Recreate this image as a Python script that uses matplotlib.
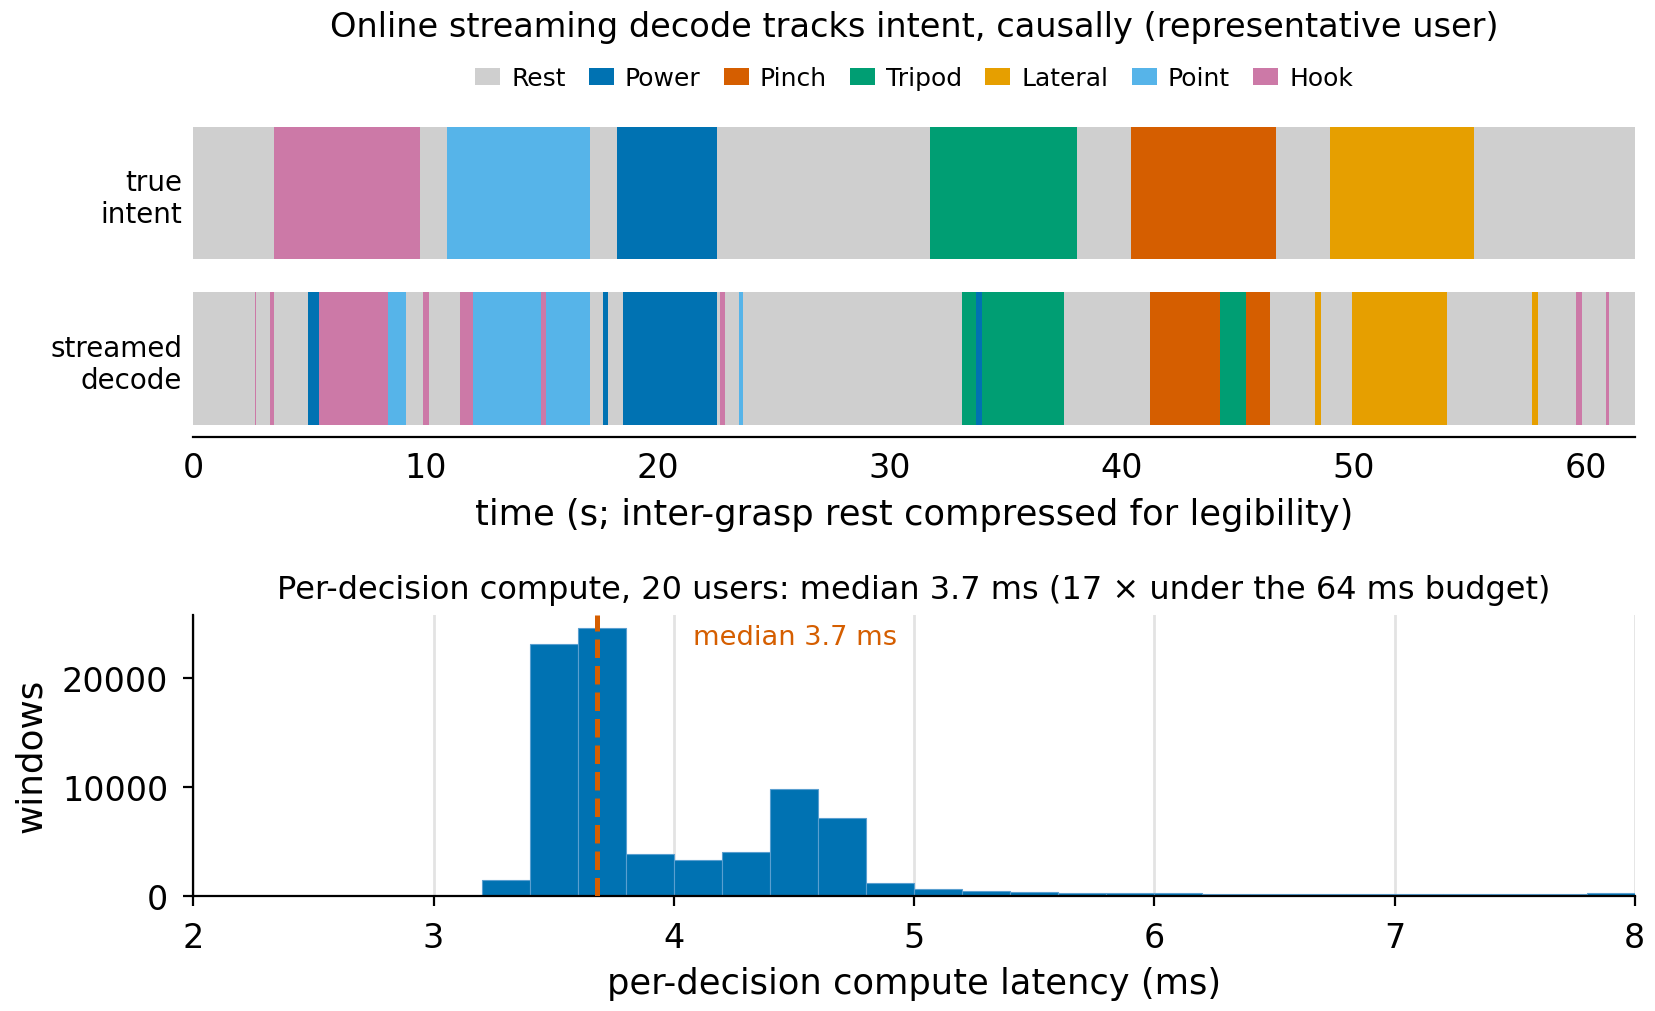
import numpy as np
import matplotlib
matplotlib.use("Agg")
import matplotlib.pyplot as plt
from matplotlib.patches import Patch
import matplotlib.transforms as mtransforms

# grasp classes and colours
classes = ["Rest", "Power", "Pinch", "Tripod", "Lateral", "Point", "Hook"]
class_colors = ["#cfcfcf", "#0072b2", "#d55e00", "#009e73", "#e69f00", "#56b4e9", "#cc79a7"]

# true intent: segment boundaries (s) and class per segment
true_bounds = [0, 3.49, 9.75, 10.93, 17.10, 18.26, 22.55, 31.75, 38.07, 40.40,
               46.65, 48.97, 55.19, 62.1]
true_labels = ["Rest", "Hook", "Rest", "Point", "Rest", "Power", "Rest", "Tripod",
               "Rest", "Pinch", "Rest", "Lateral", "Rest"]

# streamed decode
dec_bounds = [0, 2.66, 2.72, 3.30, 3.47, 4.95, 5.40, 8.40, 9.17, 9.89, 10.14,
              11.49, 12.06, 14.99, 15.20, 17.09, 17.63, 17.88, 18.51, 22.55,
              22.67, 22.90, 23.51, 23.68, 33.11, 33.74, 33.99, 37.51, 41.22,
              44.25, 45.37, 46.39, 48.33, 48.57, 49.92, 54.01, 57.68, 57.91,
              59.57, 59.83, 60.87, 60.99, 62.1]
dec_labels = ["Rest", "Hook", "Rest", "Hook", "Rest", "Power", "Hook", "Point",
              "Rest", "Hook", "Rest", "Hook", "Point", "Hook", "Point", "Rest",
              "Power", "Rest", "Power", "Rest", "Hook", "Rest", "Point", "Rest",
              "Tripod", "Power", "Tripod", "Rest", "Pinch", "Tripod", "Pinch",
              "Rest", "Lateral", "Rest", "Lateral", "Rest", "Lateral", "Rest",
              "Hook", "Rest", "Hook", "Rest"]

row_names = ["true\nintent", "streamed\ndecode"]

# latency histogram (0.2 ms bins)
bin_edges = np.round(np.arange(2.0, 8.01, 0.2), 2)
bin_counts = [0, 0, 0, 0, 0, 0, 1410, 23100, 24550, 3800, 3220, 3960, 9800,
              7100, 1180, 620, 460, 320, 240, 200, 190, 180, 170, 170, 160, 160,
              150, 150, 150, 190]
median_ms = 3.68

color_of = dict(zip(classes, class_colors))

fig = plt.figure(figsize=(8.28, 5.06), dpi=200)

# ---- top: timeline ----
ax1 = fig.add_axes([0.1167, 0.5670, 0.8705, 0.3067])
for y, bounds, labels in [(1, true_bounds, true_labels), (0, dec_bounds, dec_labels)]:
    starts = np.array(bounds[:-1])
    widths = np.diff(bounds)
    ax1.barh([y] * len(labels), widths, left=starts, height=0.8,
             color=[color_of[l] for l in labels], linewidth=0)
ax1.set_xlim(0, 62.1)
ax1.set_ylim(-0.475, 1.4)
ax1.set_yticks([1, 0])
ax1.set_yticklabels(row_names, fontsize=10)
ax1.tick_params(axis="y", length=0, pad=4)
ax1.tick_params(axis="x", length=0, pad=5, labelsize=12)
for s in ["top", "right", "left"]:
    ax1.spines[s].set_visible(False)
ax1.set_xlabel("time (s; inter-grasp rest compressed for legibility)", fontsize=12.7, labelpad=4.5)

fig.text(0.552, 1 - 27.5 / 1012, "Online streaming decode tracks intent, causally (representative user)",
         ha="center", va="center", fontsize=12.1)
handles = [Patch(facecolor=c, edgecolor="none") for c in class_colors]
fig.legend(handles, classes, loc="center", bbox_to_anchor=(0.552, 1 - 79 / 1012),
           ncol=7, frameon=False, fontsize=9, handlelength=1.0, handletextpad=0.45,
           columnspacing=0.92)

# ---- bottom: latency histogram ----
ax2 = fig.add_axes([0.1167, 0.1141, 0.8705, 0.2776])
ax2.bar(bin_edges[:-1], bin_counts, width=np.diff(bin_edges), align="edge",
        color="#0072b2", edgecolor="#5a9fd0", linewidth=0.4, zorder=2)
ax2.axvline(median_ms, color="#d55e00", linestyle="--", linewidth=1.8, zorder=3)
trans = mtransforms.blended_transform_factory(ax2.transData, ax2.transAxes)
ax2.text(median_ms + 0.4, 0.92, "median 3.7 ms", transform=trans, color="#d55e00",
         fontsize=9.8, ha="left", va="center")
ax2.set_xlim(2, 8)
ax2.grid(axis="x", color="#e3e3e3", linewidth=1.0, zorder=0)
ax2.set_axisbelow(True)
for s in ["top", "right"]:
    ax2.spines[s].set_visible(False)
ax2.tick_params(labelsize=12, pad=5.5)
ax2.set_xlabel("per-decision compute latency (ms)", fontsize=12.7, labelpad=4.5)
ax2.set_ylabel("windows", fontsize=12.9, labelpad=5)
ax2.set_title("Per-decision compute, 20 users: median 3.7 ms (17 \u00d7 under the 64 ms budget)",
              fontsize=11.5, pad=6)

fig.savefig("out.png", dpi=200)
